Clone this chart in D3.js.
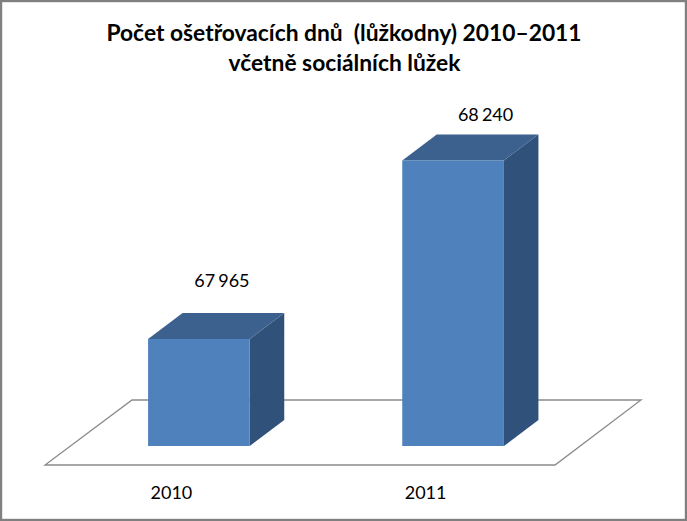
<!DOCTYPE html>
<html><head><meta charset="utf-8">
<script src="https://cdn.jsdelivr.net/npm/d3@7/dist/d3.min.js"></script>
<style>html,body{margin:0;padding:0;background:#fff}svg{display:block}text{font-family:Lato,"Open Sans",sans-serif;fill:#000}</style>
</head><body><svg id="c" width="687" height="521"></svg>
<script>
const categories = ["2010","2011"];
const values = [67965,68240];
const valueLabels = ["67 965","68 240"];
const titleLines = ["Počet ošetřovacích dnů  (lůžkodny) 2010–2011","včetně sociálních lůžek"];

const W=687,H=521;
const svg=d3.select("#c");
svg.append("rect").attr("x",0).attr("y",0).attr("width",W).attr("height",H).attr("fill","#fff");
const x=d3.scaleBand().domain(categories).range([46.4,605.6]).paddingInner(0.6).paddingOuter(0.4);
const y=d3.scaleLinear().domain([67800,68300]).range([446,121.5]);
const dx=34.5,dy=-26;
const base=y.range()[0];

// floor
const fl=d3.path();
fl.moveTo(45,465);fl.lineTo(555,465);fl.lineTo(641,400);fl.lineTo(132,400);fl.closePath();
svg.append("path").attr("d",fl.toString()).attr("fill","#fff").attr("stroke","#8a8a8a").attr("stroke-width",1.3);

const g=svg.selectAll("g.bar").data(categories.map((c,i)=>({c,v:values[i],l:valueLabels[i]}))).join("g").attr("class","bar");
const poly=pts=>"M"+pts.map(p=>p.join(",")).join("L")+"Z";
g.append("path").attr("fill","#30527a").attr("d",d=>{const l=x(d.c)+x.bandwidth(),t=y(d.v);
  return poly([[l,t],[l+dx,t+dy],[l+dx,base+dy],[l,base]]);});
g.append("path").attr("fill","#3c618f").attr("d",d=>{const l=x(d.c),r=l+x.bandwidth(),t=y(d.v);
  return poly([[l,t],[l+dx,t+dy],[r+dx,t+dy],[r,t]]);});
g.append("rect").attr("fill","#4f81bd").attr("x",d=>x(d.c)).attr("y",d=>y(d.v)).attr("width",x.bandwidth()).attr("height",d=>base-y(d.v));
g.append("text").attr("text-anchor","middle").attr("font-size",18).attr("word-spacing",-1.5)
  .attr("x",d=>x(d.c)+x.bandwidth()/2+(d.c==="2010"?23:32.5)).attr("y",d=>y(d.v)+dy-(d.c==="2010"?26:13)).text(d=>d.l);
g.append("text").attr("text-anchor","middle").attr("font-size",18)
  .attr("x",d=>x(d.c)+x.bandwidth()/2-27.5).attr("y",499).text(d=>d.c);

svg.append("g").selectAll("text").data(titleLines).join("text").attr("text-anchor","middle")
  .attr("font-size",22.8).attr("font-weight",700).style("white-space","pre")
  .attr("x",(d,i)=>i?344.5:344).attr("y",(d,i)=>41+i*30).text(d=>d);

svg.append("rect").attr("x",1).attr("y",1).attr("width",W-2).attr("height",H-2).attr("fill","none").attr("stroke","#808080").attr("stroke-width",2.4);
</script></body></html>
